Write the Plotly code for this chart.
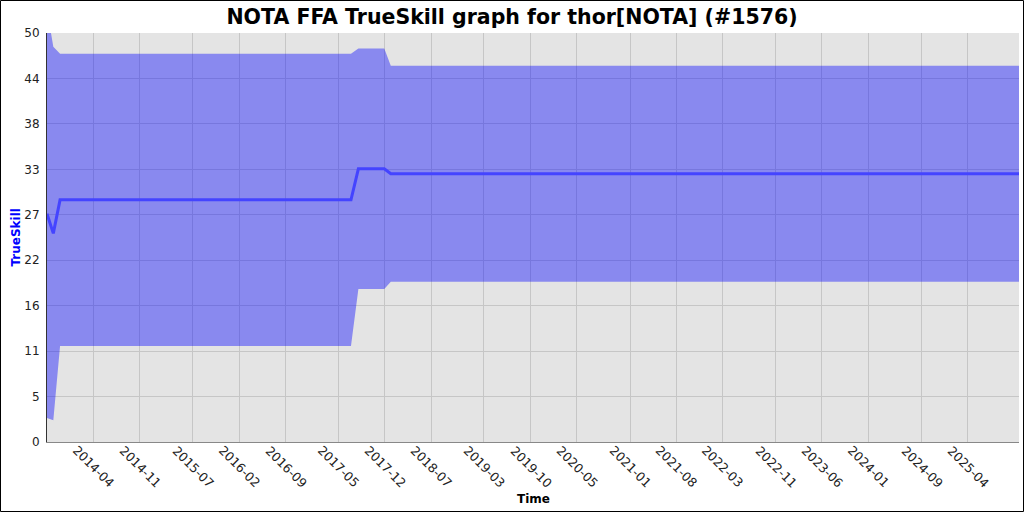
import plotly.graph_objects as go

# ---- data ----
dates = ["2013-08-31", "2013-09-29", "2013-10-30", "2017-06-28",
         "2017-08-01", "2017-11-28", "2017-12-28", "2025-11-23"]
mu = [27.9, 25.5, 29.6, 29.6, 33.4, 33.4, 32.8, 32.8]
sigma = [8.32, 7.61, 5.95, 5.95, 4.9, 4.9, 4.4, 4.4]

ytick_vals = [i * 50 / 9 for i in range(10)]
ytick_text = [str(int(v + 1e-9)) for v in ytick_vals]
xtick_dates = ["2014-04-01", "2014-11-01", "2015-07-01", "2016-02-01", "2016-09-01",
               "2017-05-01", "2017-12-01", "2018-07-01", "2019-03-01", "2019-10-01",
               "2020-05-01", "2021-01-01", "2021-08-01", "2022-03-01", "2022-11-01",
               "2023-06-01", "2024-01-01", "2024-09-01", "2025-04-01"]
xtick_text = [d[:7] for d in xtick_dates]

title = "NOTA FFA TrueSkill graph for thor[NOTA] (#1576)"

lower = [m - 3 * s for m, s in zip(mu, sigma)]
upper = [m + 3 * s for m, s in zip(mu, sigma)]

W, H = 1024, 512
L, R, T, B = 47, 5, 33, 70
pw, ph = W - L - R, H - T - B

fig = go.Figure()
fig.add_trace(go.Scatter(x=dates, y=lower, mode="lines", line=dict(width=0),
                         hoverinfo="skip", showlegend=False))
fig.add_trace(go.Scatter(x=dates, y=upper, mode="lines", line=dict(width=0),
                         fill="tonexty", fillcolor="rgba(0,0,255,0.40)",
                         hoverinfo="skip", showlegend=False))
fig.add_trace(go.Scatter(x=dates, y=mu, mode="lines",
                         line=dict(color="#4444ff", width=3), showlegend=False))

font = "DejaVu Sans, Verdana, sans-serif"
fig.update_layout(
    width=W, height=H,
    margin=dict(l=L, r=R, t=T, b=B, autoexpand=False),
    paper_bgcolor="white", plot_bgcolor="#e4e4e4",
    font=dict(family=font, color="#222222", size=12),
    title=dict(text="<b>" + title + "</b>", x=0.5, xanchor="center",
               y=1 - 17 / H, yanchor="middle",
               font=dict(size=20.5, color="black", family=font)),
)
fig.update_xaxes(type="date", range=[dates[0], dates[-1]],
                 tickvals=xtick_dates, showticklabels=False,
                 showgrid=True, gridcolor="#c6c6c6", gridwidth=1,
                 showline=True, linecolor="#888888", linewidth=1,
                 zeroline=False, fixedrange=True)
fig.update_yaxes(range=[0, 50], tickvals=ytick_vals, ticktext=ytick_text,
                 showgrid=True, gridcolor="#c6c6c6", gridwidth=1,
                 showline=True, linecolor="#333333", linewidth=1,
                 ticks="", ticklabelstandoff=4,
                 tickfont=dict(size=12, color="#222222"),
                 zeroline=False, fixedrange=True)

annotations = []
for d, t in zip(xtick_dates, xtick_text):
    annotations.append(dict(x=d, xref="x", y=-(467 - (T + ph)) / ph, yref="paper",
                            text=t, textangle=45, showarrow=False,
                            xanchor="center", yanchor="middle",
                            font=dict(size=12.5, color="#222222", family=font)))
annotations.append(dict(x=0.5, xref="paper", y=-(499 - (T + ph)) / ph, yref="paper",
                        text="<b>Time</b>", showarrow=False,
                        xanchor="center", yanchor="middle",
                        font=dict(size=12, color="black", family=font)))
annotations.append(dict(x=(15 - L) / pw, xref="paper", y=0.5, yref="paper",
                        text="<b>TrueSkill</b>", textangle=-90, showarrow=False,
                        xanchor="center", yanchor="middle",
                        font=dict(size=12, color="#0000ff", family=font)))
fig.update_layout(annotations=annotations)

fig.add_shape(type="rect", xref="paper", yref="paper",
              x0=(0.5 - L) / pw, x1=(W - 0.5 - L) / pw,
              y0=-(H - 0.5 - (T + ph)) / ph, y1=(T + ph - 0.5) / ph,
              line=dict(color="black", width=1), layer="above")

fig.write_html("out.html", config={"displayModeBar": False},
               post_script="document.body.style.margin='0';")
